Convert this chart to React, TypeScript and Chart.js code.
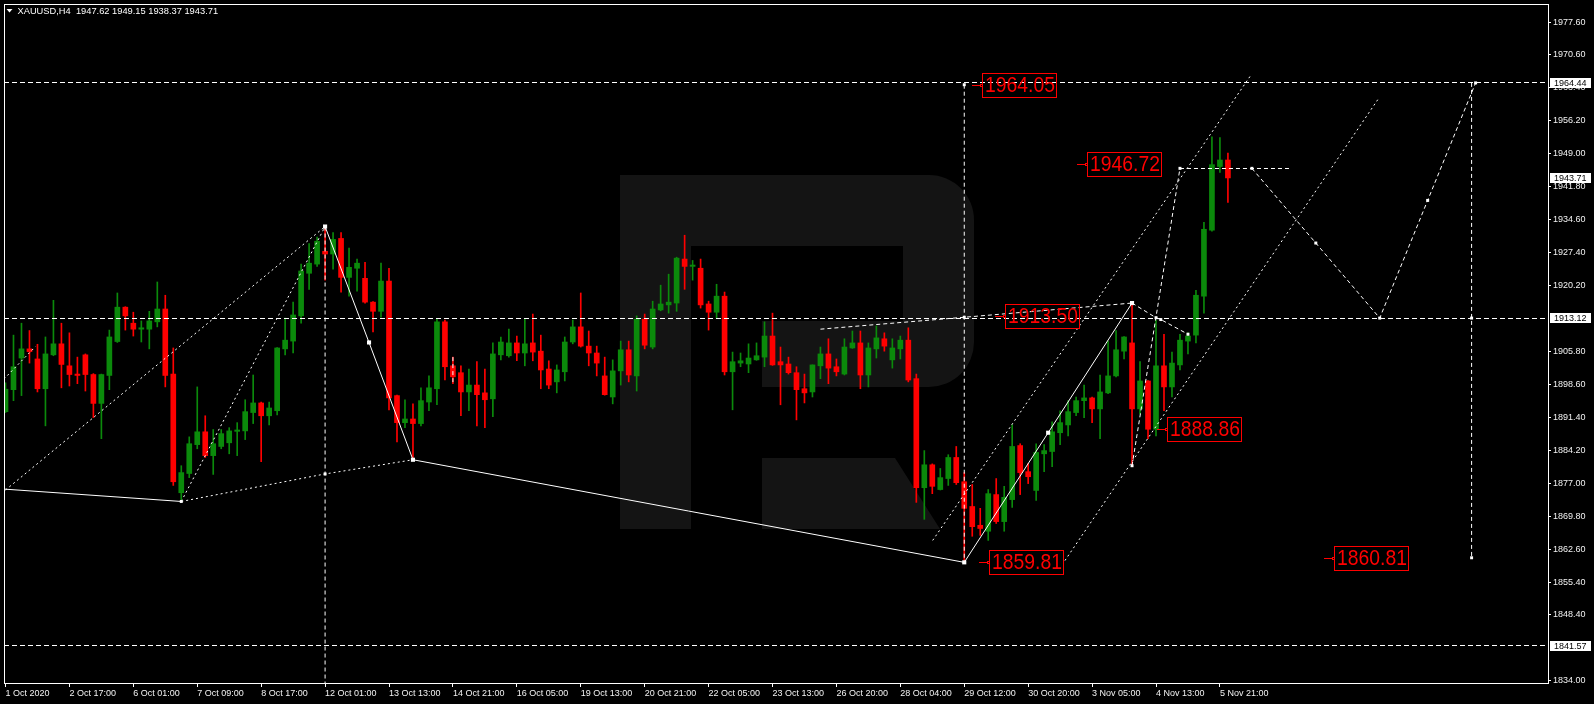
import React, { useEffect, useRef } from 'react';
import { Chart, registerables } from 'chart.js';

Chart.register(...registerables);

// ---- XAUUSD H4 price data (1 Oct 2020 .. 6 Nov 2020) ----
const SYMBOL = 'XAUUSD,H4';

const OPEN = [
  1892.7, 1897.5, 1904.4, 1906.4, 1904.2, 1897.7, 1905.1, 1907.5, 1902.7, 1900.9,
  1905.1, 1900.8, 1894.5, 1900.6, 1908.0, 1915.5, 1912.0, 1910.7, 1910.7, 1912.3,
  1915.1, 1900.9, 1875.0, 1879.2, 1885.5, 1888.3, 1883.1, 1885.1, 1885.9, 1888.4,
  1888.5, 1892.5, 1894.6, 1891.8, 1892.9, 1906.4, 1908.1, 1913.6, 1922.9, 1924.9,
  1927.7, 1927.1, 1930.5, 1922.0, 1924.0, 1921.8, 1916.6, 1914.6, 1921.2, 1896.2,
  1890.3, 1891.1, 1890.1, 1894.8, 1897.7, 1912.3, 1902.7, 1901.2, 1897.0, 1898.5,
  1896.8, 1895.5, 1905.1, 1904.9, 1907.7, 1905.5, 1907.7, 1905.9, 1902.0, 1899.2,
  1901.4, 1907.9, 1911.2, 1907.0, 1905.5, 1900.5, 1895.9, 1901.6, 1906.2, 1900.5,
  1912.9, 1906.8, 1914.9, 1916.0, 1916.4, 1926.0, 1924.4, 1924.0, 1916.2, 1914.4,
  1917.9, 1901.4, 1903.3, 1903.1, 1904.0, 1904.6, 1909.2, 1903.6, 1903.1, 1901.2,
  1897.7, 1897.0, 1902.7, 1905.3, 1902.5, 1900.9, 1906.6, 1907.7, 1900.7, 1906.4,
  1908.6, 1904.0, 1906.4, 1908.3, 1899.9, 1876.1, 1881.1, 1875.7, 1878.1, 1882.7,
  1877.4, 1872.0, 1867.9, 1866.6, 1874.6, 1868.7, 1873.5, 1885.3, 1879.6, 1875.5,
  1883.5, 1884.0, 1888.1, 1889.8, 1892.5, 1895.1, 1895.7, 1893.3, 1896.8, 1900.5,
  1905.9, 1907.7, 1893.3, 1899.4, 1888.86, 1902.7, 1898.1, 1902.9, 1908.1, 1909.4,
  1917.9, 1932.3, 1946.2, 1947.62,
];
const HIGH = [
  1899.0, 1909.4, 1912.0, 1910.4, 1907.4, 1909.0, 1917.0, 1912.0, 1909.9, 1904.6,
  1905.3, 1901.0, 1900.9, 1910.5, 1918.6, 1915.6, 1914.4, 1912.5, 1914.6, 1921.0,
  1918.1, 1906.6, 1880.9, 1887.2, 1898.1, 1891.8, 1888.8, 1888.8, 1889.2, 1890.3,
  1895.3, 1900.7, 1894.8, 1894.8, 1906.7, 1913.1, 1916.6, 1924.9, 1929.4, 1930.8,
  1933.1, 1931.8, 1931.8, 1928.4, 1926.0, 1925.3, 1916.7, 1925.1, 1924.0, 1896.3,
  1895.3, 1894.4, 1897.9, 1900.5, 1912.9, 1912.7, 1904.6, 1902.7, 1902.0, 1903.6,
  1902.0, 1907.7, 1909.0, 1910.7, 1909.2, 1912.9, 1914.0, 1909.4, 1903.8, 1902.9,
  1909.0, 1912.7, 1918.6, 1910.3, 1907.0, 1904.6, 1904.0, 1908.1, 1908.1, 1913.6,
  1914.0, 1916.8, 1920.3, 1922.7, 1926.4, 1931.2, 1925.7, 1926.0, 1916.8, 1920.5,
  1918.8, 1905.7, 1905.5, 1907.5, 1907.7, 1912.3, 1914.2, 1906.8, 1904.6, 1902.5,
  1900.9, 1902.9, 1906.8, 1908.6, 1904.2, 1908.6, 1910.3, 1910.3, 1907.7, 1911.4,
  1909.9, 1908.6, 1909.2, 1911.0, 1900.9, 1884.2, 1881.3, 1880.3, 1883.3, 1885.1,
  1879.4, 1876.8, 1871.6, 1875.7, 1878.1, 1876.4, 1889.8, 1885.7, 1881.4, 1885.7,
  1885.5, 1890.5, 1892.9, 1895.1, 1895.9, 1898.5, 1895.9, 1900.7, 1908.1, 1910.4,
  1909.1, 1916.4, 1903.6, 1899.5, 1912.7, 1909.6, 1905.7, 1909.6, 1909.9, 1919.2,
  1934.0, 1952.7, 1952.5, 1949.15,
];
const LOW = [
  1892.5, 1895.1, 1896.2, 1903.3, 1897.0, 1889.6, 1904.9, 1897.9, 1898.3, 1898.8,
  1897.2, 1891.4, 1886.8, 1897.5, 1907.8, 1910.5, 1909.2, 1907.9, 1906.4, 1911.2,
  1898.1, 1876.6, 1873.1, 1878.3, 1884.6, 1882.7, 1879.0, 1884.6, 1883.5, 1883.1,
  1886.6, 1890.1, 1881.8, 1889.8, 1892.0, 1905.1, 1905.5, 1912.0, 1919.4, 1924.4,
  1921.4, 1923.8, 1918.8, 1917.9, 1919.0, 1916.4, 1910.1, 1913.3, 1893.1, 1886.1,
  1889.2, 1882.2, 1889.6, 1892.9, 1894.2, 1899.6, 1898.8, 1891.8, 1892.9, 1889.6,
  1889.2, 1891.6, 1904.0, 1904.6, 1903.8, 1902.7, 1903.8, 1897.7, 1897.7, 1896.8,
  1899.4, 1907.5, 1906.8, 1902.7, 1900.5, 1896.3, 1894.4, 1898.5, 1899.2, 1897.2,
  1906.4, 1906.4, 1914.7, 1914.2, 1914.6, 1919.4, 1921.4, 1915.3, 1910.5, 1913.1,
  1900.7, 1893.1, 1902.5, 1901.2, 1903.9, 1902.5, 1902.8, 1894.2, 1900.9, 1890.9,
  1894.6, 1895.9, 1899.9, 1898.8, 1900.5, 1900.7, 1906.5, 1897.7, 1898.1, 1904.4,
  1905.9, 1902.2, 1904.2, 1899.2, 1872.9, 1869.2, 1874.8, 1875.6, 1876.6, 1876.8,
  1859.81, 1865.5, 1865.7, 1864.6, 1868.3, 1866.6, 1871.8, 1874.6, 1877.0, 1873.3,
  1879.6, 1880.7, 1885.5, 1887.4, 1891.8, 1891.4, 1890.3, 1886.8, 1896.6, 1900.3,
  1904.2, 1880.9, 1892.2, 1886.8, 1887.4, 1892.9, 1895.9, 1901.8, 1905.3, 1907.7,
  1914.2, 1932.1, 1944.9, 1938.37,
];
const CLOSE = [
  1897.6, 1902.5, 1906.4, 1905.8, 1897.7, 1905.3, 1907.5, 1903.0, 1900.8, 1900.6,
  1900.8, 1894.5, 1900.8, 1909.0, 1915.5, 1913.6, 1910.7, 1911.0, 1912.5, 1915.1,
  1900.6, 1877.4, 1879.4, 1885.7, 1888.3, 1883.1, 1885.7, 1887.9, 1888.5, 1888.7,
  1892.7, 1894.6, 1891.8, 1893.5, 1906.6, 1908.3, 1913.8, 1923.4, 1925.1, 1929.9,
  1927.1, 1930.3, 1922.0, 1924.2, 1925.1, 1916.6, 1914.6, 1921.2, 1895.7, 1890.3,
  1891.1, 1890.1, 1895.1, 1897.9, 1912.3, 1902.5, 1900.3, 1897.0, 1898.5, 1896.4,
  1895.3, 1905.3, 1907.9, 1907.7, 1905.5, 1907.5, 1905.7, 1901.8, 1898.5, 1901.8,
  1907.9, 1911.2, 1907.0, 1905.5, 1903.3, 1896.4, 1901.6, 1906.2, 1900.7, 1912.9,
  1907.2, 1915.1, 1916.2, 1916.6, 1926.2, 1924.4, 1924.7, 1916.0, 1914.4, 1917.9,
  1901.4, 1903.6, 1903.8, 1904.4, 1904.9, 1909.2, 1902.9, 1902.9, 1901.2, 1897.5,
  1896.8, 1902.9, 1905.3, 1902.2, 1901.4, 1906.8, 1907.7, 1900.7, 1906.6, 1908.8,
  1907.0, 1906.6, 1908.3, 1899.6, 1876.1, 1881.1, 1876.4, 1878.3, 1882.7, 1877.2,
  1871.6, 1867.6, 1867.2, 1874.8, 1868.7, 1874.0, 1885.1, 1879.4, 1878.5, 1883.8,
  1884.2, 1888.3, 1890.3, 1892.7, 1895.1, 1895.7, 1893.3, 1897.0, 1900.5, 1906.2,
  1909.0, 1893.3, 1899.4, 1888.86, 1902.7, 1898.1, 1903.3, 1908.3, 1909.2, 1918.1,
  1932.5, 1946.6, 1947.62, 1943.71,
];

// time axis: one label every 8 bars
const DATE_TICKS = [0, 8, 16, 24, 32, 40, 48, 56, 64, 72, 80, 88, 96, 104, 112, 120, 128, 136, 144, 152];
const DATE_LABELS = [
  '1 Oct 2020', '2 Oct 17:00', '6 Oct 01:00', '7 Oct 09:00', '8 Oct 17:00',
  '12 Oct 01:00', '13 Oct 13:00', '14 Oct 21:00', '16 Oct 05:00', '19 Oct 13:00',
  '20 Oct 21:00', '22 Oct 05:00', '23 Oct 13:00', '26 Oct 20:00', '28 Oct 04:00',
  '29 Oct 12:00', '30 Oct 20:00', '3 Nov 05:00', '4 Nov 13:00', '5 Nov 21:00',
];

// price axis
const PRICE_TICKS = [
  1977.6, 1970.6, 1963.4, 1956.2, 1949.0, 1941.8, 1934.6, 1927.4, 1920.2,
  1905.8, 1898.6, 1891.4, 1884.2, 1877.0, 1869.8, 1862.6, 1855.4, 1848.4, 1834.0,
];

// horizontal levels across the whole chart
const LEVEL_LINES = [1964.44, 1913.12, 1841.57];

// red price callouts: value and the bar where the pointer starts
const CALLOUT_VALUES = [1964.05, 1946.72, 1913.5, 1888.86, 1859.81, 1860.81];
const CALLOUT_BARS = [121.0, 134.15, 123.9, 144.15, 121.8, 165.0];

// zigzag and forecast paths as [bar, price]
const SOLID_PATHS: number[][][] = [
  [[-0.2, 1875.8], [22, 1873.1]],
  [[40, 1933.1], [45.5, 1907.8], [51, 1882.2]],
  [[51, 1882.2], [120, 1859.81]],
  [[120, 1859.81], [130.5, 1888.1], [141, 1916.4]],
];
const DOTTED_PATHS: number[][][] = [
  [[0, 1875.6], [40, 1933.1]],
  [[22, 1873.1], [40, 1933.1]],
  [[22, 1873.1], [40, 1879.1], [51, 1882.2]],
  [[-0.2, 1899.8], [3.75, 1906.9]],
  [[116.05, 1864.6], [155.9, 1966.2]],
  [[132.6, 1860.2], [171.8, 1960.9]],
];
const DASHED_PATHS: number[][][] = [
  [[40, 1933.1], [40, 1833.48]],
  [[120, 1964.05], [120, 1859.81]],
  [[102, 1910.7], [120, 1913.3], [141, 1916.4]],
  [[141, 1916.4], [144, 1913.2], [144.6, 1912.8], [148, 1909.6]],
  [[141, 1880.9], [147, 1945.8]],
  [[156, 1945.8], [164, 1929.5], [172, 1913.12], [178, 1938.8], [184, 1964.44]],
  [[183.5, 1964.44], [183.5, 1860.81]],
  [[56, 1904.6], [56, 1898.8]],
];
// short horizontal target segment: [price, fromBar, toBar]
const TARGET_SEGMENT = [1945.8, 147, 160.7];

const PIVOT_POINTS = [
  [40, 1933.1], [45.5, 1907.8], [51, 1882.2], [120, 1859.81], [130.5, 1888.1], [141, 1916.4],
];
const ARROW_POINTS = [
  [22, 1873.1], [40, 1879.1], [120, 1913.3], [120, 1964.05], [141, 1880.9],
  [144, 1913.2], [144.6, 1912.8], [148, 1909.6], [147, 1945.8], [156, 1945.8],
  [164, 1929.5], [172, 1913.12], [178, 1938.8], [184, 1964.44], [183.5, 1913.12], [183.5, 1860.81],
];

const X_MIN = -0.1875;
const X_MAX = 193.0625;
const Y_MIN = 1833.48;
const Y_MAX = 1981.665;

const BULL = '#0b8a0b';
const BEAR = '#ff0000';
const AXIS_FONT = { family: 'Liberation Sans, Arial, sans-serif', size: 9 };

const toXY = (pts: number[][]) => pts.map(([x, y]) => ({ x, y }));

const pathDataset = (pts: number[][], dash: number[]) => ({
  type: 'line' as const,
  data: toXY(pts),
  borderColor: '#ffffff',
  borderWidth: 1,
  borderDash: dash,
  pointRadius: 0,
  fill: false,
  tension: 0,
  order: 0,
});

const backgroundPlugin = {
  id: 'terminalBackground',
  beforeDraw(chart: any) {
    const { ctx, width, height } = chart;
    ctx.save();
    ctx.fillStyle = '#000000';
    ctx.fillRect(0, 0, width, height);
    ctx.restore();
  },
};

// faint "R" logo behind the candles
const logoPlugin = {
  id: 'logoMark',
  beforeDatasetsDraw(chart: any) {
    const { ctx, chartArea } = chart;
    ctx.save();
    ctx.beginPath();
    ctx.rect(chartArea.left, chartArea.top, chartArea.right - chartArea.left, chartArea.bottom - chartArea.top);
    ctx.clip();
    ctx.fillStyle = '#141414';
    ctx.fillRect(620, 175, 71, 354);
    ctx.beginPath();
    ctx.moveTo(620, 175);
    ctx.lineTo(929, 175);
    ctx.arcTo(974, 175, 974, 220, 45);
    ctx.lineTo(974, 342);
    ctx.arcTo(974, 387, 929, 387, 45);
    ctx.lineTo(762, 387);
    ctx.lineTo(762, 321);
    ctx.lineTo(903, 321);
    ctx.lineTo(903, 246);
    ctx.lineTo(620, 246);
    ctx.closePath();
    ctx.fill();
    ctx.beginPath();
    ctx.moveTo(762, 458);
    ctx.lineTo(895, 458);
    ctx.lineTo(940, 529);
    ctx.lineTo(762, 529);
    ctx.closePath();
    ctx.fill();
    ctx.restore();
  },
};

// crisp horizontal dashed levels, red callouts and the symbol header
const overlayPlugin = {
  id: 'overlays',
  afterDatasetsDraw(chart: any) {
    const { ctx, chartArea, scales } = chart;
    const xs = scales.x;
    const ys = scales.y;
    const crisp = (v: number) => Math.round(v - 0.5) + 0.5;

    ctx.save();
    ctx.beginPath();
    ctx.rect(chartArea.left, chartArea.top, chartArea.right - chartArea.left, chartArea.bottom - chartArea.top);
    ctx.clip();
    ctx.strokeStyle = '#ffffff';
    ctx.lineWidth = 1;
    ctx.setLineDash([5, 3]);
    LEVEL_LINES.forEach((v) => {
      const y = crisp(ys.getPixelForValue(v));
      ctx.beginPath();
      ctx.moveTo(xs.getPixelForValue(X_MIN), y);
      ctx.lineTo(xs.getPixelForValue(X_MAX), y);
      ctx.stroke();
    });
    {
      const [p, a, b] = TARGET_SEGMENT;
      const y = crisp(ys.getPixelForValue(p));
      ctx.setLineDash([4, 3]);
      ctx.beginPath();
      ctx.moveTo(xs.getPixelForValue(a), y);
      ctx.lineTo(xs.getPixelForValue(b), y);
      ctx.stroke();
    }
    ctx.setLineDash([]);

    // callouts
    ctx.strokeStyle = BEAR;
    ctx.fillStyle = BEAR;
    ctx.font = '22px "Liberation Sans", Arial, sans-serif';
    ctx.textBaseline = 'middle';
    ctx.textAlign = 'left';
    CALLOUT_VALUES.forEach((v, i) => {
      const px = Math.round(xs.getPixelForValue(CALLOUT_BARS[i]));
      const py = Math.round(ys.getPixelForValue(v));
      const text = v.toFixed(2);
      const tw = ctx.measureText(text).width * 0.88;
      ctx.beginPath();
      ctx.moveTo(px, py + 0.5);
      ctx.lineTo(px + 8, py + 0.5);
      ctx.stroke();
      ctx.strokeRect(px + 8.5, py - 0.5, 2, 2);
      ctx.strokeRect(px + 10.5, py - 11.5, Math.round(tw) + 4, 24);
      ctx.save();
      ctx.translate(px + 13, py + 1);
      ctx.scale(0.88, 1);
      ctx.fillText(text, 0, 0);
      ctx.restore();
    });
    ctx.restore();

    // symbol header with the last bar's prices
    const last = OPEN.length - 1;
    ctx.save();
    ctx.fillStyle = '#ffffff';
    ctx.beginPath();
    ctx.moveTo(6.5, 9);
    ctx.lineTo(12.5, 9);
    ctx.lineTo(9.5, 12.5);
    ctx.closePath();
    ctx.fill();
    ctx.font = '9.3px "Liberation Sans", Arial, sans-serif';
    ctx.textBaseline = 'middle';
    ctx.textAlign = 'left';
    const header = `${SYMBOL}  ${OPEN[last].toFixed(2)} ${HIGH[last].toFixed(2)} ${LOW[last].toFixed(2)} ${CLOSE[last].toFixed(2)}`;
    ctx.fillText(header, 17.5, 11);
    ctx.restore();
  },
  afterDraw(chart: any) {
    const { ctx, chartArea, scales } = chart;
    const ys = scales.y;
    ctx.save();
    ctx.strokeStyle = '#ffffff';
    ctx.lineWidth = 1;
    ctx.strokeRect(chartArea.left + 0.5, chartArea.top + 0.5, chartArea.right - chartArea.left, chartArea.bottom - chartArea.top);
    // boxed prices on the axis
    const boxed = [...LEVEL_LINES, CLOSE[CLOSE.length - 1]];
    ctx.font = '9px "Liberation Sans", Arial, sans-serif';
    ctx.textBaseline = 'middle';
    ctx.textAlign = 'left';
    boxed.forEach((v) => {
      const y = Math.round(ys.getPixelForValue(v));
      ctx.fillStyle = '#ffffff';
      ctx.fillRect(chartArea.right + 2, y - 5, 41, 10);
      ctx.fillStyle = '#000000';
      ctx.fillText(v.toFixed(2), chartArea.right + 6, y + 0.5);
    });
    ctx.restore();
  },
};

export default function App() {
  const canvasRef = useRef<HTMLCanvasElement>(null);

  useEffect(() => {
    document.body.style.margin = '0';
    document.body.style.background = '#000';
    const canvas = canvasRef.current;
    if (!canvas) return;

    const idx = OPEN.map((_, i) => i);
    const colors = idx.map((i) => (CLOSE[i] >= OPEN[i] ? BULL : BEAR));

    const datasets: any[] = [
      ...SOLID_PATHS.map((p) => pathDataset(p, [])),
      ...DOTTED_PATHS.map((p) => pathDataset(p, [2, 3])),
      ...DASHED_PATHS.map((p) => pathDataset(p, [4, 3])),
      {
        type: 'line',
        data: toXY(PIVOT_POINTS),
        showLine: false,
        pointStyle: 'rect',
        pointRadius: 2.9,
        pointBackgroundColor: '#ffffff',
        pointBorderWidth: 0,
        order: 0,
      },
      {
        type: 'line',
        data: toXY(ARROW_POINTS),
        showLine: false,
        pointStyle: 'rect',
        pointRadius: 2.1,
        pointBackgroundColor: '#ffffff',
        pointBorderWidth: 0,
        order: 0,
      },
      {
        type: 'bar',
        data: idx.map((i) => ({ x: i, y: [OPEN[i], CLOSE[i]] })),
        backgroundColor: colors,
        borderWidth: 0,
        barThickness: 5,
        minBarLength: 1,
        grouped: false,
        order: 5,
      },
      {
        type: 'bar',
        data: idx.map((i) => ({ x: i, y: [LOW[i], HIGH[i]] })),
        backgroundColor: colors,
        borderWidth: 0,
        barThickness: 1,
        minBarLength: 1,
        grouped: false,
        order: 6,
      },
    ];

    const chart = new Chart(canvas, {
      type: 'bar',
      data: { datasets },
      options: {
        responsive: false,
        animation: false,
        devicePixelRatio: 1,
        events: [],
        layout: { padding: { top: 2, left: 2, right: 0, bottom: 0 } },
        plugins: { legend: { display: false }, tooltip: { enabled: false }, title: { display: false } },
        scales: {
          x: {
            type: 'linear',
            min: X_MIN,
            max: X_MAX,
            offset: false,
            afterBuildTicks: (s: any) => {
              s.ticks = DATE_TICKS.map((v) => ({ value: v }));
            },
            afterFit: (s: any) => {
              s.height = 21;
              s.paddingLeft = 0;
              s.paddingRight = 0;
            },
            ticks: {
              autoSkip: false,
              maxRotation: 0,
              minRotation: 0,
              align: 'start',
              padding: 1,
              color: '#f2f2f2',
              font: AXIS_FONT,
              callback: (_v: any, i: number) => DATE_LABELS[i] ?? '',
            },
            grid: { display: true, drawOnChartArea: false, drawTicks: true, tickLength: 4, color: '#ffffff', offset: false },
            border: { display: false },
          },
          y: {
            type: 'linear',
            position: 'right',
            min: Y_MIN,
            max: Y_MAX,
            beginAtZero: false,
            afterBuildTicks: (s: any) => {
              s.ticks = PRICE_TICKS.map((v) => ({ value: v }));
            },
            afterFit: (s: any) => {
              s.width = 46;
              s.paddingTop = 0;
              s.paddingBottom = 0;
            },
            ticks: {
              padding: 2,
              color: '#f2f2f2',
              font: AXIS_FONT,
              callback: (v: any) => Number(v).toFixed(2),
            },
            grid: { display: true, drawOnChartArea: false, drawTicks: true, tickLength: 3, color: '#ffffff' },
            border: { display: false },
          },
        },
      } as any,
      plugins: [backgroundPlugin, logoPlugin, overlayPlugin],
    });

    return () => chart.destroy();
  }, []);

  return <canvas ref={canvasRef} width={1594} height={704} style={{ display: 'block', width: 1594, height: 704 }} />;
}
